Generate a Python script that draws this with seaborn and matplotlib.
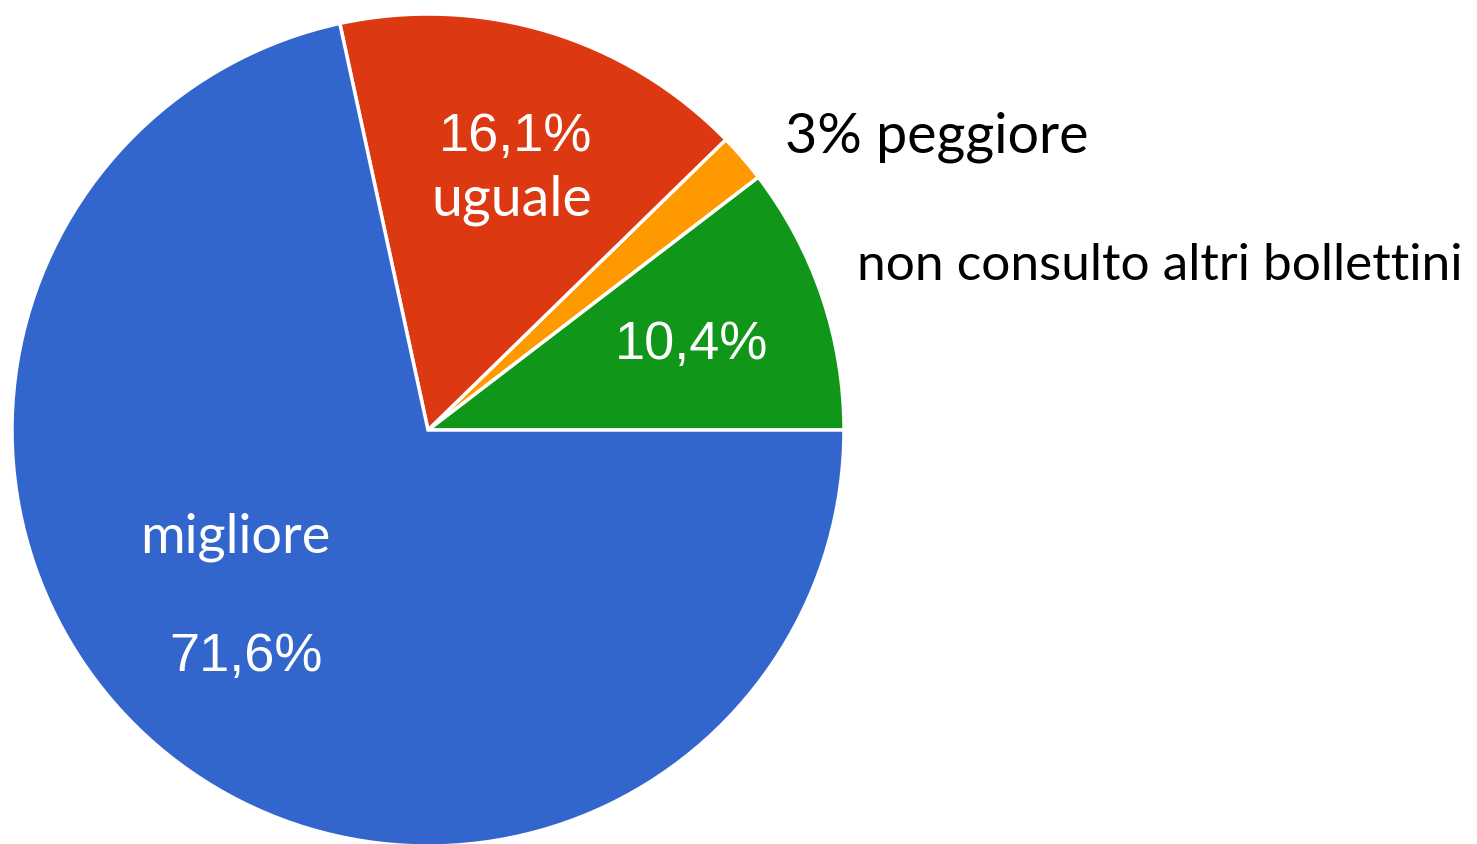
import matplotlib
matplotlib.use('Agg')
import matplotlib.pyplot as plt
import seaborn as sns

# slices, counter-clockwise from 3 o'clock
labels = ["non consulto altri bollettini", "peggiore", "uguale", "migliore"]
values = [10.4, 1.9, 16.1, 71.6]
colors = ["#109618", "#FF9900", "#DC3912", "#3366CC"]

sns.set_style("white")

fig = plt.figure(figsize=(14.77, 8.45), dpi=100)
ax = fig.add_axes([0, 0, 1, 1])
ax.pie(values, colors=colors, startangle=0, counterclock=True, radius=1,
       wedgeprops=dict(edgecolor="white", linewidth=2.5))

# put pie center at pixel (428, 431) with radius 416 px
s = 416.0
ax.set_xlim(-428 / s, (1477 - 428) / s)
ax.set_ylim(-(845 - 431) / s, 431 / s)
ax.set_aspect("equal")
ax.axis("off")

def px(x, y):
    return (x - 428) / s, (431 - y) / s

pct_font = dict(family=["Liberation Sans", "DejaVu Sans"], fontsize=39, color="white")
lab_font = dict(family=["Lato", "DejaVu Sans"], fontsize=40)

ax.text(*px(516, 137), "16,1%", ha="center", va="center", **pct_font)
ax.text(*px(512, 200), "uguale", ha="center", va="center", color="white", **lab_font)
ax.text(*px(692, 345), "10,4%", ha="center", va="center", **pct_font)
ax.text(*px(246, 657), "71,6%", ha="center", va="center", **pct_font)
ax.text(*px(235, 537), "migliore", ha="center", va="center", color="white",
        family=["Lato", "DejaVu Sans"], fontsize=39)
ax.text(*px(785, 137), "3% peggiore", ha="left", va="center", color="black", **lab_font)
ax.text(*px(857, 266), labels[0], ha="left", va="center", color="black",
        family=["Lato", "DejaVu Sans"], fontsize=37)

fig.savefig("out.png", dpi=100)
